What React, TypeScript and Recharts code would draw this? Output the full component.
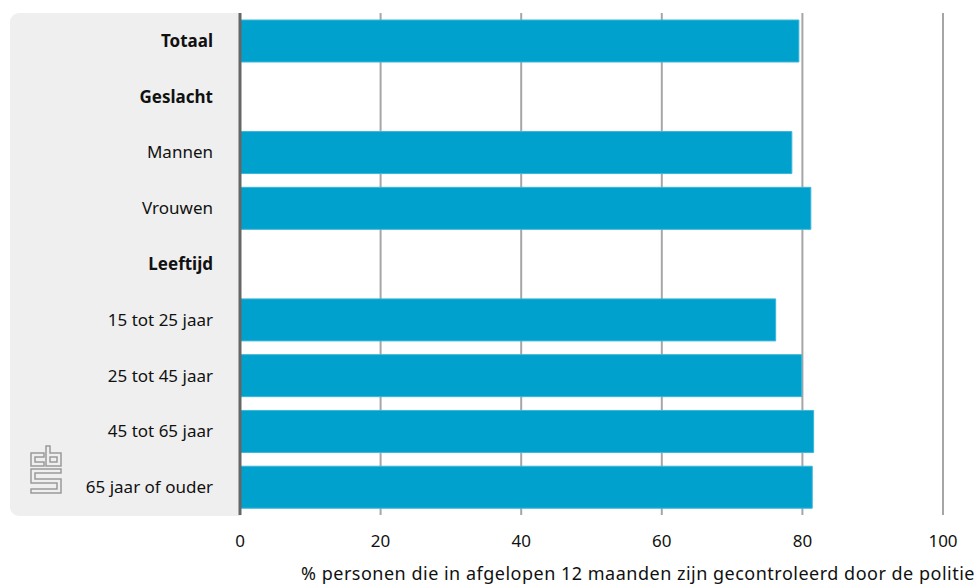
import { BarChart, Bar, XAxis, YAxis, CartesianGrid, ReferenceLine } from 'recharts';

const categories = [
  'Totaal',
  'Geslacht',
  'Mannen',
  'Vrouwen',
  'Leeftijd',
  '15 tot 25 jaar',
  '25 tot 45 jaar',
  '45 tot 65 jaar',
  '65 jaar of ouder',
];
const headers = ['Totaal', 'Geslacht', 'Leeftijd'];
const values = [79.5, null, 78.5, 81.2, null, 76.2, 79.9, 81.6, 81.4];
const xTicks = [0, 20, 40, 60, 80, 100];
const axisTitle = '% personen die in afgelopen 12 maanden zijn gecontroleerd door de politie';

const data = categories.map((name, i) => ({ name, value: values[i] }));

const FONT = '"Noto Sans", sans-serif';

function CategoryTick({ x, y, payload }: any) {
  const bold = headers.includes(payload.value);
  return (
    <text
      x={x}
      y={y}
      dy="0.35em"
      textAnchor="end"
      fontSize={17}
      fontFamily={FONT}
      fontWeight={bold ? 700 : 400}
      fill="#111"
    >
      {payload.value}
    </text>
  );
}

function AxisTitle({ viewBox }: any) {
  return (
    <text
      x={viewBox.x + viewBox.width + 32}
      y={viewBox.y + viewBox.height - 7}
      textAnchor="end"
      fontSize={18}
      letterSpacing={0.5}
      fontFamily={FONT}
      fill="#111"
    >
      {axisTitle}
    </text>
  );
}

function CbsLogo() {
  return (
    <svg
      width={977}
      height={587}
      style={{ position: 'absolute', left: 0, top: 0, pointerEvents: 'none' }}
    >
      <g fill="none" stroke="#9a9a9a" strokeWidth={1.5}>
        <path d="M44,453 H31 V466 H44 V462 H35 V457 H44 Z" />
        <path d="M46,446 H50 V453 H61 V466 H46 Z" />
        <rect x={50} y={457} width={7} height={5} />
        <path d="M31,469 H61 V473 H35 V479 H61 V493 H31 V489 H57 V483 H31 Z" />
      </g>
    </svg>
  );
}

export default function App() {
  return (
    <div style={{ position: 'absolute', left: 0, top: 0, width: 977, height: 587, background: '#fff' }}>
      <div
        style={{
          position: 'absolute',
          left: 10,
          top: 13,
          width: 231,
          height: 503,
          background: '#efefef',
          borderRadius: '9px 0 0 9px',
        }}
      />
      <CbsLogo />
      <div style={{ position: 'absolute', left: 0, top: 0 }}>
        <BarChart
          width={977}
          height={587}
          data={data}
          layout="vertical"
          margin={{ top: 13, right: 34, bottom: 0, left: 0 }}
          barSize={42}
        >
          <CartesianGrid horizontal={false} vertical stroke="#a6a6a6" strokeWidth={2} />
          <XAxis
            type="number"
            domain={[0, 100]}
            ticks={xTicks}
            axisLine={false}
            tickLine={false}
            tickMargin={14}
            height={72}
            tick={{ fontSize: 17, fontFamily: FONT, fill: '#111' }}
            label={<AxisTitle />}
          />
          <YAxis
            type="category"
            dataKey="name"
            width={240}
            axisLine={false}
            tickLine={false}
            tick={<CategoryTick />}
            tickMargin={21}
            interval={0}
          />
          <Bar
            dataKey="value"
            fill="#00a1cd"
            stroke="#3db6da"
            strokeWidth={1}
            isAnimationActive={false}
          />
          <ReferenceLine x={0} stroke="#666" strokeWidth={3} />
        </BarChart>
      </div>
    </div>
  );
}
